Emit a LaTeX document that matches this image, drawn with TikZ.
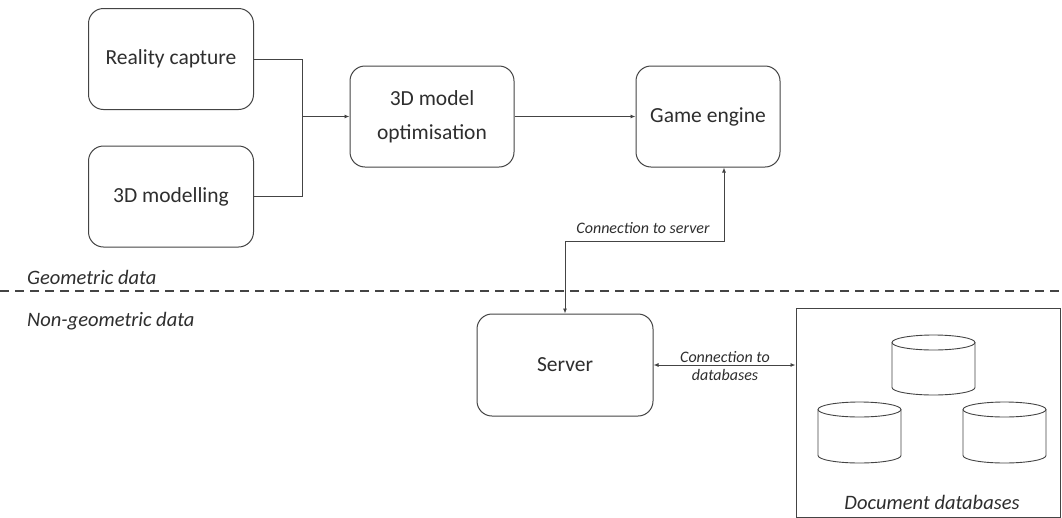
\documentclass[tikz,border=0pt]{standalone}
\usepackage{fontspec}
\setmainfont{Carlito}
\usetikzlibrary{arrows.meta}
\definecolor{ln}{HTML}{444444}
\definecolor{tx}{HTML}{2E2E2E}
\begin{document}
\begin{tikzpicture}[x=1pt,y=-1pt,
  proc/.style={draw=ln, line width=1pt, rounded corners=15pt, inner sep=0pt, align=center, text=tx, font=\fontsize{21.5}{34}\selectfont},
  conn/.style={draw=ln, line width=0.9pt},
  tip/.style={-{Latex[length=5pt,width=4pt]}},
  lbl/.style={text=tx, font=\fontsize{16}{17.5}\selectfont\itshape, inner sep=0pt, align=center},
  side/.style={text=tx, font=\fontsize{20.5}{23}\selectfont\itshape, inner sep=0pt, anchor=west}]
\useasboundingbox[fill=white] (0,0) rectangle (1062,517);

\node[proc, minimum width=165pt, minimum height=101pt] (rc) at (171,59) {Reality capture};
\node[proc, minimum width=165pt, minimum height=101pt] (mod) at (171,196.5) {3D modelling};
\node[proc, minimum width=164pt, minimum height=101pt] (opt) at (432,116.5) {3D model\\optimisation};
\node[proc, minimum width=144pt, minimum height=101pt] (ge) at (708,116.5) {Game engine};
\node[proc, minimum width=176pt, minimum height=102pt] (srv) at (565,365) {Server};
\node[draw=ln, line width=1pt, minimum width=264pt, minimum height=209pt, inner sep=0pt] (db) at (928,412.5) {};
\node[side, anchor=center] (dbl) at (932,502) {Document databases};

\coordinate (j) at (302,116.5);
\draw[conn] (rc.east) -| (j);
\draw[conn] (mod.east) -| (j);
\draw[conn, tip] (j) -- (opt.west);
\draw[conn, tip] (opt.east) -- (ge.west);

\coordinate (b1) at (724,241);
\coordinate (b2) at (565,241);
\draw[conn, {Latex[length=5pt,width=4pt]}-{Latex[length=5pt,width=4pt]}] (ge.south -| b1) -- (b1) -- (b2) -- (srv.north);
\node[lbl] (cs) at (643,228) {Connection to server};

\draw[conn, {Latex[length=5pt,width=4pt]}-{Latex[length=5pt,width=4pt]}] (srv.east) -- (db.west |- srv.east);
\node[lbl] (cd) at (725,366) {Connection to\\databases};

\draw[ln, line width=1.7pt, dash pattern=on 9pt off 6pt] (0,291) -- (1062,291);
\node[side] (geo) at (27,277) {Geometric data};
\node[side] (ngeo) at (27,321) {Non-geometric data};

\foreach \cx/\yt/\yb in {933.5/342.5/387.5, 859.5/409.5/455.5, 1004.5/409.5/455.5}{
  \draw[ln, line width=0.9pt] (\cx,\yt) ellipse [x radius=41.5pt, y radius=7.5pt];
  \draw[ln, line width=0.9pt] (\cx-41.5,\yt) -- (\cx-41.5,\yb) arc[start angle=180, end angle=360, x radius=41.5pt, y radius=7.5pt] -- (\cx+41.5,\yt);
}
\end{tikzpicture}
\end{document}
